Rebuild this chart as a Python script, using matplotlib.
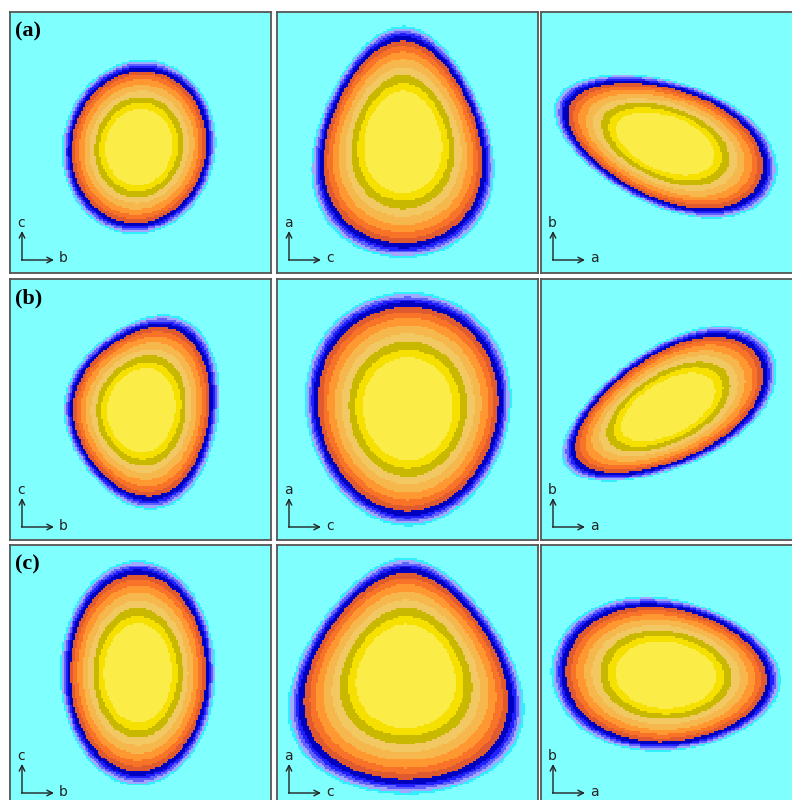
import numpy as np
import matplotlib.pyplot as plt
from matplotlib.colors import BoundaryNorm, ListedColormap

# panel grid (rows a, b, c), each panel is a projection of a blob
row_labels = ["(a)", "(b)", "(c)"]
axis_pairs = [("b", "c"), ("c", "a"), ("a", "b")]  # (horizontal, vertical) per column

# blob outline, panel pixel units (0..261, y down)
# centre x, centre y, half width, half height, tilt (deg, ccw), egg along x, egg along y
blob_cx = [[129, 126, 124], [131, 131, 127], [128, 129, 125]]
blob_cy = [[135, 130, 131], [131, 130, 129], [128, 131, 130]]
blob_rx = [[70, 81, 107], [71, 94, 108], [71, 103, 105]]
blob_ry = [[80, 106, 57], [87, 107, 55], [103, 108, 70]]
blob_tilt = [[-12, 0, -21], [-8, 0, 29], [0, 0, -4]]
blob_egg_x = [[0.0, 0.0, 0.12], [0.22, 0.0, 0.15], [0.0, 0.0, -0.12]]
blob_egg_y = [[0.0, -0.24, 0.0], [0.0, 0.08, 0.0], [0.0, -0.3, 0.0]]

# relative distance boundaries (1 = outer edge of the dark blue ring), inside -> outside
levels = [0.0, 0.48, 0.555, 0.63, 0.705, 0.78, 0.85, 0.905, 0.955, 1.0, 1.025, 1.05, 1.075, 1.095, 9.0]
band_colors = [
    "#fbec48",  # light yellow core
    "#f5e000",
    "#c8b800",
    "#f2c862",
    "#f6b84c",
    "#ff9830",
    "#f87228",
    "#e05a30",
    "#0000c0",
    "#2020ff",
    "#6060ff",
    "#a0a8ff",
    "#30f0ff",
    "#80ffff",  # background
]

PANEL = 261
col_x0 = [10, 277, 541]
row_y0 = [12, 279, 545]
FIG_W, FIG_H = 792, 800

cmap = ListedColormap(band_colors)
norm = BoundaryNorm(levels, cmap.N)

n = 140
g = (np.arange(n) + 0.5) * PANEL / n
X, Y = np.meshgrid(g, g)


def blob_field(r, c):
    t = np.radians(blob_tilt[r][c])
    dx = X - blob_cx[r][c]
    dy = -(Y - blob_cy[r][c])  # y up
    u = dx * np.cos(t) + dy * np.sin(t)
    v = -dx * np.sin(t) + dy * np.cos(t)
    rx, ry = blob_rx[r][c], blob_ry[r][c]
    wx = rx * np.clip(1 + blob_egg_y[r][c] * v / ry, 0.2, None)
    wy = ry * np.clip(1 + blob_egg_x[r][c] * u / rx, 0.2, None)
    return np.sqrt((u / wx) ** 2 + (v / wy) ** 2)


fig = plt.figure(figsize=(FIG_W / 100, FIG_H / 100), dpi=100)

for r in range(3):
    for c in range(3):
        left = col_x0[c] / FIG_W
        bottom = 1 - (row_y0[r] + PANEL) / FIG_H
        ax = fig.add_axes([left, bottom, PANEL / FIG_W, PANEL / FIG_H])
        ax.imshow(blob_field(r, c), cmap=cmap, norm=norm, interpolation="nearest",
                  extent=(0, PANEL, PANEL, 0))
        ax.set_xlim(0, PANEL)
        ax.set_ylim(PANEL, 0)
        ax.set_xticks([])
        ax.set_yticks([])
        for s in ax.spines.values():
            s.set_color("#555555")
            s.set_linewidth(1.3)

        # little axis cross in the corner
        h, v = axis_pairs[c]
        arrow = dict(arrowstyle="->", color="#222222", lw=1.0, shrinkA=0, shrinkB=0)
        ax.annotate("", xy=(12, 219), xytext=(12, 248), arrowprops=arrow)
        ax.annotate("", xy=(44, 248), xytext=(11.5, 248), arrowprops=arrow)
        ax.text(11, 211, v, fontsize=10, color="#222222", ha="center", va="center")
        ax.text(49, 246.5, h, fontsize=10, color="#222222", ha="left", va="center")

        if c == 0:
            ax.text(5, 19, row_labels[r], fontsize=16, fontweight="bold",
                    family="Liberation Serif", ha="left", va="center")

fig.savefig("out.png", dpi=100, facecolor="white")
